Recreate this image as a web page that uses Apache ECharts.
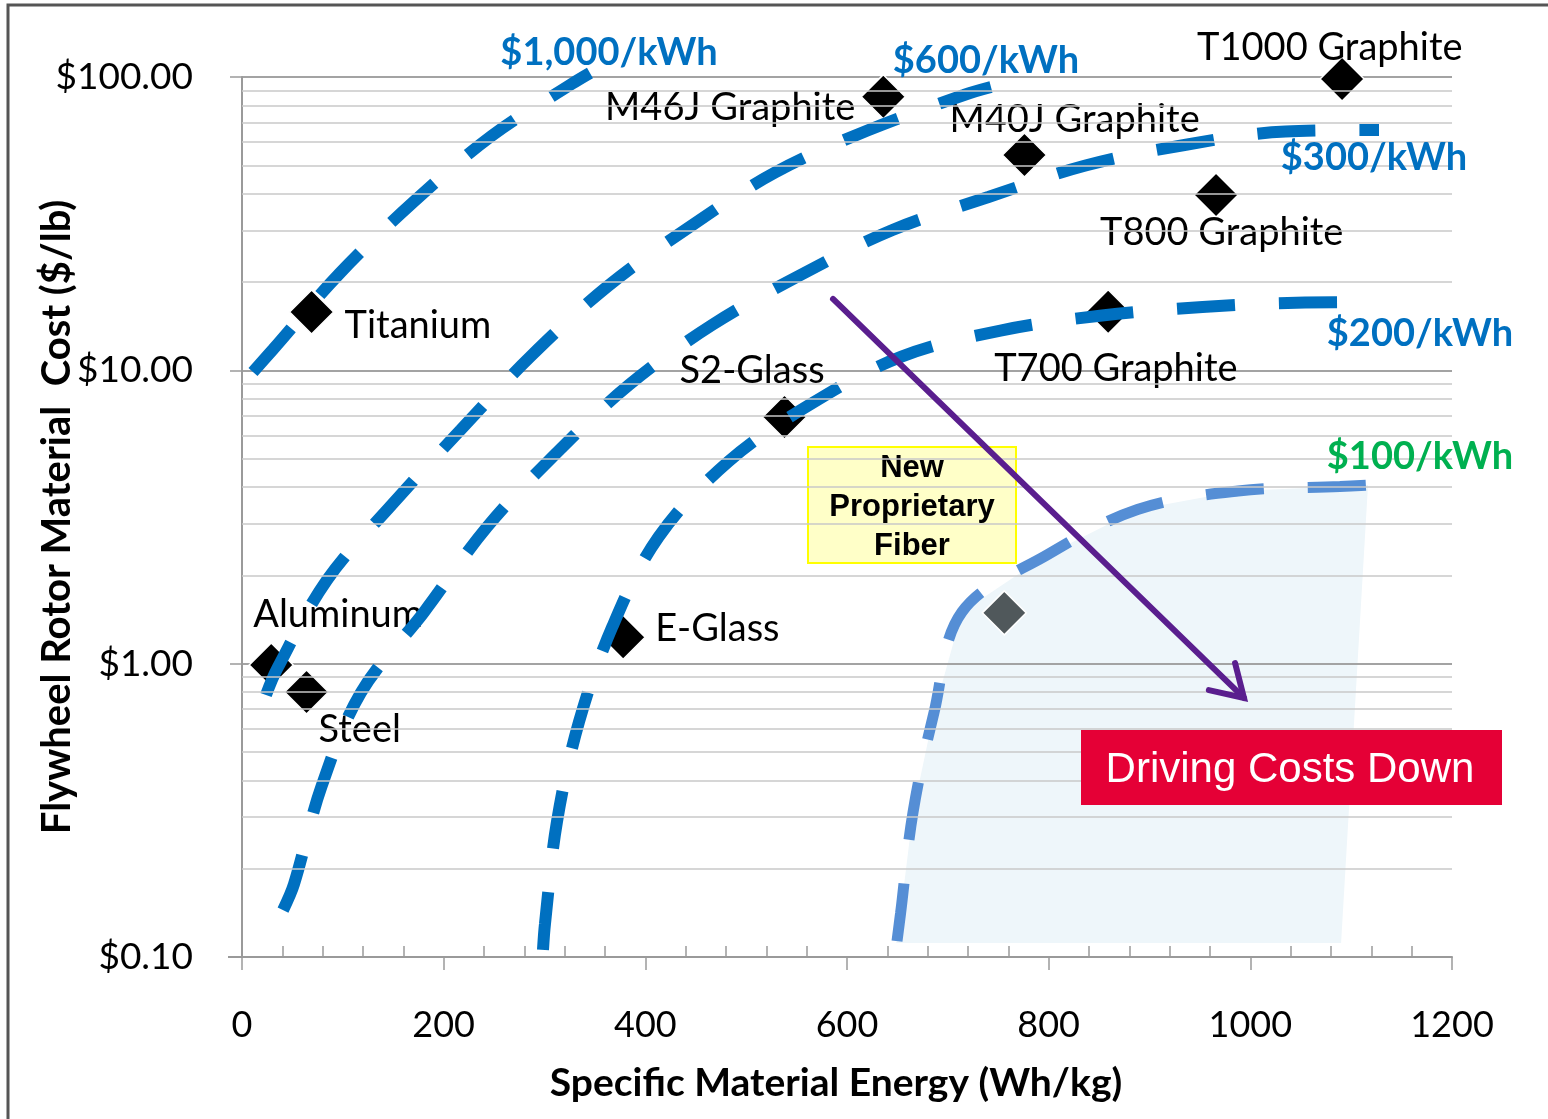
<!DOCTYPE html>
<html><head><meta charset="utf-8">
<script src="https://cdn.jsdelivr.net/npm/echarts@6/dist/echarts.min.js"></script>
<style>html,body{margin:0;padding:0;background:#fff}#chart{width:1548px;height:1119px}</style>
</head><body><div id="chart"></div>
<script>
// ---------- data ----------
const xTickValues = [0, 200, 400, 600, 800, 1000, 1200];
const yTickValues = [0.1, 1, 10, 100];
const yMinorGrid = [0.2,0.3,0.4,0.5,0.6,0.7,0.8,0.9,2,3,4,5,6,7,8,9,20,30,40,50,60,70,80,90];

const materials      = ['Titanium','Aluminum','Steel','E-Glass','S2-Glass','M46J Graphite','M40J Graphite','T1000 Graphite','T800 Graphite','T700 Graphite'];
const materialEnergy = [69, 29, 64, 378, 538, 636, 776, 1091, 966, 859];
const materialCost   = [15.8, 0.99, 0.80, 1.23, 6.93, 85.7, 54.2, 98.4, 39.6, 15.85];

const newFiberName   = 'New Proprietary Fiber';
const newFiberEnergy = [756];
const newFiberCost   = [1.49];

const curveNames = ['$1,000/kWh', '$600/kWh', '$300/kWh', '$200/kWh', '$100/kWh'];

const curve1000E = [10.9, 30.7, 97.2, 171.1, 247.4, 326.8, 345.1];
const curve1000C = [9.87, 11.78, 21.47, 37.77, 62.9, 94.6, 103.2];

const curve600E = [23.8, 35.2, 84.3, 148.3, 216.7, 286.6, 363.0, 445.3, 528.6, 620.3, 716.0, 742.8];
const curve600C = [0.782, 0.9665, 1.929, 3.474, 6.261, 11.19, 19.39, 31.05, 47.25, 65.7, 86.8, 92.4];

const curve300E = [40.7, 51.6, 78.8, 118.0, 180.5, 243.0, 310.4, 383.8, 466.1, 553.9, 645.1, 740.3, 836.5, 934.7, 1034.9, 1127.6];
const curve300C = [0.1446, 0.1773, 0.3813, 0.7974, 1.50, 2.924, 5.164, 8.913, 14.27, 21.13, 30.09, 38.99, 49.93, 58.65, 65.2, 65.96];

const curve200E = [298.5, 300.5, 312.4, 334.2, 367.4, 413.1, 482.5, 564.3, 654.0, 752.2, 852.9, 952.6, 1054.2, 1128.6];
const curve200C = [0.1057, 0.130, 0.2897, 0.6327, 1.339, 2.703, 4.89, 7.68, 11.14, 13.67, 15.38, 16.44, 17.03, 17.10];

const curve100E = [649.6, 653.1, 665.5, 686.3, 714.0, 798.3, 888.1, 987.8, 1088.9, 1116.7];
const curve100C = [0.1133, 0.1407, 0.312, 0.6816, 1.50, 2.348, 3.354, 3.878, 4.018, 4.064];

// shaded target region below the $100/kWh curve (right and bottom edges)
const shadeEdgeE = [1090.0, 648.6];
const shadeEdgeC = [0.1117, 0.1117];

// trend arrow
const arrowE = [586.1, 993.7];
const arrowC = [17.51, 0.764];

// ---------- styling (kept apart from the data) ----------
const BLUE = '#0070C0', LIGHTBLUE = '#558ED5', GREEN = '#00B050';
const labelFont = 'Lato';
const labelSpec = {
  'Titanium':       {dx: 33,   dy: 14,  align: 'left'},
  'Aluminum':       {dx: -18,  dy: -50, align: 'left'},
  'Steel':          {dx: 12,   dy: 38,  align: 'left'},
  'E-Glass':        {dx: 32,   dy: -9,  align: 'left'},
  'S2-Glass':       {dx: -105, dy: -46, align: 'left'},
  'M46J Graphite':  {dx: -28,  dy: 11,  align: 'right'},
  'M40J Graphite':  {dx: -75,  dy: -35, align: 'left'},
  'T1000 Graphite': {dx: -145, dy: -31, align: 'left'},
  'T800 Graphite':  {dx: -116, dy: 38,  align: 'left'},
  'T700 Graphite':  {dx: -114, dy: 57,  align: 'left'}
};

function zip(a, b) { return a.map((v, i) => [v, b[i]]); }

function curveSeries(name, E, C, color, width) {
  return {
    name: name, type: 'line', data: zip(E, C), smooth: 0.35, showSymbol: false, symbol: 'none',
    clip: false, z: 3, silent: true,
    lineStyle: {color: color, width: width, type: [58, 44], cap: 'butt'}
  };
}

const chart = echarts.init(document.getElementById('chart'), null, {renderer: 'canvas'});

const option = {
  animation: false,
  backgroundColor: '#ffffff',
  grid: {left: 242, right: 96, top: 77, bottom: 162, containLabel: false},
  xAxis: {
    type: 'value', min: 0, max: 1200, interval: 200,
    axisLine: {show: true, lineStyle: {color: '#9A9A9A', width: 2}},
    axisTick: {show: true, length: 13, inside: false, lineStyle: {color: '#9A9A9A', width: 1.5}},
    minorTick: {show: true, splitNumber: 5, length: -11, lineStyle: {color: '#9A9A9A', width: 1.5}},
    splitLine: {show: false},
    axisLabel: {margin: 50, fontFamily: labelFont, fontSize: 36, color: '#000',
      formatter: v => xTickValues.indexOf(v) >= 0 ? String(v) : ''}
  },
  yAxis: {
    type: 'log', logBase: 10, min: 0.1, max: 100,
    axisLine: {show: true, lineStyle: {color: '#9A9A9A', width: 2}},
    axisTick: {show: true, length: 12, lineStyle: {color: '#9A9A9A', width: 1.5}},
    splitLine: {show: true, lineStyle: {color: '#A3A3A3', width: 2}},
    axisLabel: {margin: 49, fontFamily: labelFont, fontSize: 37, color: '#000',
      formatter: v => '$' + Number(v).toFixed(2)}
  },
  series: [
    { // minor log gridlines
      name: 'minor grid', type: 'line', data: [], z: 1, silent: true,
      markLine: {silent: true, symbol: ['none', 'none'], label: {show: false},
        lineStyle: {color: '#C9C9C9', width: 1.5, type: 'solid'},
        emphasis: {disabled: true},
        data: yMinorGrid.map(v => ({yAxis: v}))}
    },
    { // shaded region
      name: 'target region', type: 'custom', z: -1, silent: true,
      data: [[curve100E[0], curve100C[0]]],
      renderItem: function (params, api) {
        const pts = curve100E.map((e, i) => api.coord([e, curve100C[i]]))
          .concat(shadeEdgeE.map((e, i) => api.coord([e, shadeEdgeC[i]])));
        return {type: 'polygon', shape: {points: pts}, style: {fill: '#EEF6FA', stroke: null}};
      }
    },
    curveSeries(curveNames[0], curve1000E, curve1000C, BLUE, 12),
    curveSeries(curveNames[1], curve600E, curve600C, BLUE, 12),
    curveSeries(curveNames[2], curve300E, curve300C, BLUE, 12),
    curveSeries(curveNames[3], curve200E, curve200C, BLUE, 12),
    curveSeries(curveNames[4], curve100E, curve100C, LIGHTBLUE, 11),
    {
      name: 'Materials', type: 'scatter', z: 2, symbol: 'diamond', symbolSize: 44,
      itemStyle: {color: '#000', opacity: 1, borderColor: '#fff', borderWidth: 1.5},
      data: materials.map((m, i) => {
        const s = labelSpec[m];
        return {name: m, value: [materialEnergy[i], materialCost[i]],
          label: {show: true, position: 'inside', offset: [s.dx, s.dy], align: s.align, verticalAlign: 'middle',
            formatter: '{b}', fontFamily: labelFont, fontSize: 38, color: '#000'}};
      })
    },
    {
      name: newFiberName, type: 'scatter', z: 2, symbol: 'diamond', symbolSize: 44,
      itemStyle: {color: '#50585B', opacity: 1, borderColor: '#fff', borderWidth: 1.5},
      data: newFiberEnergy.map((e, i) => [e, newFiberCost[i]])
    },
    { // trend arrow
      name: 'Driving Costs Down', type: 'custom', z: 6, silent: true, clip: false,
      data: [[arrowE[0], arrowC[0]]],
      renderItem: function (params, api) {
        const p0 = api.coord([arrowE[0], arrowC[0]]);
        const p1 = api.coord([arrowE[1], arrowC[1]]);
        const ang = Math.atan2(p1[1] - p0[1], p1[0] - p0[0]);
        const L = 36, wing = 0.55;
        const w1 = [p1[0] - L * Math.cos(ang - wing), p1[1] - L * Math.sin(ang - wing)];
        const w2 = [p1[0] - L * Math.cos(ang + wing), p1[1] - L * Math.sin(ang + wing)];
        const st = {stroke: '#5A1E8E', lineWidth: 6, fill: null, lineCap: 'round', lineJoin: 'miter'};
        return {type: 'group', children: [
          {type: 'line', shape: {x1: p0[0], y1: p0[1], x2: p1[0], y2: p1[1]}, style: st},
          {type: 'polyline', shape: {points: [w1, p1, w2]}, style: st}
        ]};
      }
    }
  ],
  graphic: [
    {type: 'rect', z: 0, silent: true, shape: {x: 8, y: 5, width: 1560, height: 1130},
      style: {fill: null, stroke: '#555', lineWidth: 3}},
    {type: 'line', z: 0, silent: true, shape: {x1: 228, y1: 957, x2: 242, y2: 957},
      style: {stroke: '#9A9A9A', lineWidth: 2}},
    {type: 'text', z: 10, x: 57, y: 517, rotation: Math.PI / 2,
      style: {text: 'Flywheel Rotor Material  Cost ($/lb)', font: 'bold 40px Lato', fill: '#000', align: 'center', verticalAlign: 'middle'}},
    {type: 'text', z: 10, x: 836, y: 1083,
      style: {text: 'Specific Material Energy (Wh/kg)', font: 'bold 39px Lato', fill: '#000', align: 'center', verticalAlign: 'middle'}},
    {type: 'text', z: 10, x: 609, y: 53, style: {text: curveNames[0], font: 'bold 38px Lato', fill: BLUE, align: 'center', verticalAlign: 'middle'}},
    {type: 'text', z: 10, x: 986, y: 61, style: {text: curveNames[1], font: 'bold 38px Lato', fill: BLUE, align: 'center', verticalAlign: 'middle'}},
    {type: 'text', z: 10, x: 1374, y: 158, style: {text: curveNames[2], font: 'bold 38px Lato', fill: BLUE, align: 'center', verticalAlign: 'middle'}},
    {type: 'text', z: 10, x: 1420, y: 334, style: {text: curveNames[3], font: 'bold 38px Lato', fill: BLUE, align: 'center', verticalAlign: 'middle'}},
    {type: 'text', z: 10, x: 1420, y: 457, style: {text: curveNames[4], font: 'bold 38px Lato', fill: GREEN, align: 'center', verticalAlign: 'middle'}},
    {type: 'rect', z: 4, silent: true, shape: {x: 808, y: 447, width: 208, height: 116},
      style: {fill: '#FFFFC8', stroke: '#FFFF00', lineWidth: 2}},
    {type: 'text', z: 4, x: 912, y: 507,
      style: {text: 'New\nProprietary\nFiber', font: 'bold 31px "Liberation Sans"', lineHeight: 39, fill: '#000', align: 'center', verticalAlign: 'middle'}},
    {type: 'rect', z: 10, silent: true, shape: {x: 1081, y: 730, width: 421, height: 75},
      style: {fill: '#E50036', stroke: null}},
    {type: 'text', z: 11, x: 1290, y: 770,
      style: {text: 'Driving Costs Down', font: '42px "Liberation Sans"', fill: '#fff', align: 'center', verticalAlign: 'middle'}}
  ]
};
chart.setOption(option);
</script>
</body></html>
